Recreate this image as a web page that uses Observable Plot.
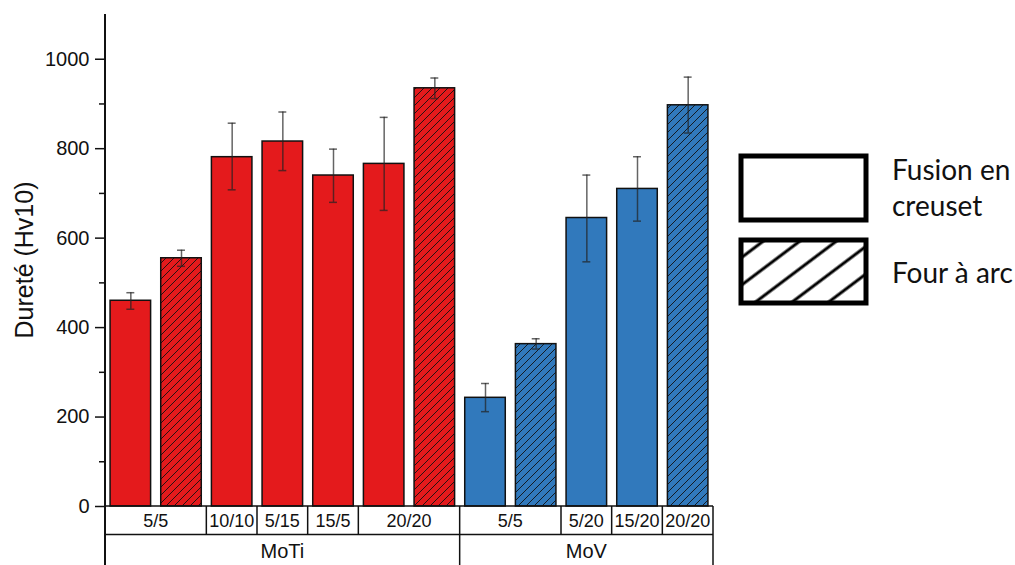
<!DOCTYPE html>
<html><head><meta charset="utf-8">
<script src="https://cdn.jsdelivr.net/npm/d3@7"></script>
<script src="https://cdn.jsdelivr.net/npm/@observablehq/plot@0.6"></script>
<style>body{margin:0;background:#fff}</style>
</head><body><div id="chart"></div>
<script>
const alloys = ["MoTi","MoTi","MoTi","MoTi","MoTi","MoTi","MoTi","MoV","MoV","MoV","MoV","MoV"];
const compositions = ["5/5","5/5","10/10","5/15","15/5","20/20","20/20","5/5","5/5","5/20","15/20","20/20"];
const methods = ["creuset","arc","creuset","creuset","creuset","creuset","arc","creuset","arc","creuset","creuset","arc"];
const hardness = [460,555,781,816,740,766,935,243,363,645,710,897];
const errLow  = [441,537,708,751,680,662,912,212,352,547,638,835];
const errHigh = [478,573,857,882,799,870,958,275,375,741,782,960];
const yTicks = [0,200,400,600,800,1000];
const yMinorTicks = [100,300,500,700,900];
const alloyColors = {MoTi:"#E41A1C", MoV:"#3179BC"};
const yLabel = "Dureté (Hv10)";
const legendLabels = [["Fusion en","creuset"],["Four à arc"]];

const data = hardness.map((h,i)=>({id:i, alloy:alloys[i], comp:compositions[i], method:methods[i], h, lo:errLow[i], hi:errHigh[i]}));
const ids = data.map(d=>d.id);

const plot = Plot.plot({
  width:1015, height:565, marginTop:14, marginBottom:59, marginLeft:105, marginRight:302,
  style:{fontFamily:"'Liberation Sans', Arial, sans-serif", fontSize:"20px", color:"#111", background:"transparent"},
  x:{type:"band", domain:ids, paddingInner:0.2, paddingOuter:0.1, round:false, axis:null},
  y:{domain:[0,1100], axis:null},
  marks:[
    Plot.barY(data,{x:"id", y:"h", fill:d=>alloyColors[d.alloy]}),
    Plot.barY(data.filter(d=>d.method==="arc"),{x:"id", y:"h", fill:"url(#hatch)"}),
    Plot.barY(data,{x:"id", y:"h", fill:"none", stroke:"#111", strokeWidth:1.5}),
    Plot.ruleX(data,{x:"id", y1:"lo", y2:"hi", stroke:"#222", strokeOpacity:0.7, strokeWidth:1.5}),
    Plot.tickY(data,{x:"id", y:"lo", stroke:"#222", strokeOpacity:0.7, strokeWidth:1.5, insetLeft:16.3, insetRight:16.3}),
    Plot.tickY(data,{x:"id", y:"hi", stroke:"#222", strokeOpacity:0.7, strokeWidth:1.5, insetLeft:16.3, insetRight:16.3}),
    Plot.axisY({ticks:yTicks, tickSize:10, tickPadding:6, tickFormat:d=>String(d), label:null, strokeWidth:1.5}),
    Plot.axisY({ticks:yMinorTicks, tickSize:6, tickFormat:()=>"", label:null, strokeWidth:1.5})
  ]
});
document.getElementById("chart").appendChild(plot);

const svg = d3.select(plot);
svg.selectAll('g[aria-label="y-axis tick label"]').style("font-size","20px").attr("font-size",20).selectAll("text").style("font-size","20px");
const defs = svg.insert("defs",":first-child");
const hp = defs.append("pattern").attr("id","hatch").attr("patternUnits","userSpaceOnUse").attr("width",8).attr("height",8);
hp.append("path").attr("d","M-2,2 L2,-2 M0,8 L8,0 M6,10 L10,6").attr("stroke","#111").attr("stroke-width",0.9);
const lp = defs.append("pattern").attr("id","lhatch").attr("patternUnits","userSpaceOnUse").attr("width",40).attr("height",22).attr("patternTransform","translate(740,300) rotate(-37)");
lp.append("line").attr("x1",0).attr("x2",40).attr("y1",11).attr("y2",11).attr("stroke","#000").attr("stroke-width",3);

const xs = plot.scale("x"), ys = plot.scale("y");
const step = xs.step, bw = xs.bandwidth, gap = (step-bw)/2;
const left = i => xs.apply(i) - gap;
const right = i => xs.apply(i) + bw + gap;
const y0 = ys.apply(0), yTop = ys.apply(1100);
const row1 = y0 + 28.5, row2 = 565;
const g = svg.append("g").attr("stroke","#111").attr("stroke-width",1.5);
const L = left(0), R = right(ids.length-1);
g.append("line").attr("x1",L).attr("x2",L).attr("y1",yTop).attr("y2",row2).attr("stroke-width",2);
g.append("line").attr("x1",L).attr("x2",R).attr("y1",y0).attr("y2",y0);
g.append("line").attr("x1",L).attr("x2",R).attr("y1",row1).attr("y2",row1);
g.append("line").attr("x1",R).attr("x2",R).attr("y1",y0).attr("y2",row2);

function runs(key){
  const out=[]; let s=0;
  for(let i=1;i<=ids.length;i++){
    if(i===ids.length || key(data[i])!==key(data[s])){ out.push({s, e:i-1, d:data[s]}); s=i; }
  }
  return out;
}
const r1 = runs(d=>d.alloy+"|"+d.comp);
const r2 = runs(d=>d.alloy);
const t = svg.append("g").attr("fill","#111").attr("text-anchor","middle").attr("font-family","'Liberation Sans', Arial, sans-serif");
r1.forEach(r=>{
  if(r.e<ids.length-1) g.append("line").attr("x1",right(r.e)).attr("x2",right(r.e)).attr("y1",y0).attr("y2",row1);
  t.append("text").attr("x",(left(r.s)+right(r.e))/2).attr("y",(y0+row1)/2).attr("dy","0.36em").attr("font-size",18).text(r.d.comp);
});
r2.forEach(r=>{
  if(r.e<ids.length-1) g.append("line").attr("x1",right(r.e)).attr("x2",right(r.e)).attr("y1",row1).attr("y2",row2);
  t.append("text").attr("x",(left(r.s)+right(r.e))/2).attr("y",551).attr("dy","0.36em").attr("font-size",20).text(r.d.alloy);
});
// y label
t.append("text").attr("transform",`translate(24,${(yTop+y0)/2}) rotate(-90)`).attr("dy","0.36em").attr("font-size",25).text(yLabel);

// legend
const lg = svg.append("g");
lg.append("rect").attr("x",741).attr("y",156).attr("width",125).attr("height",64).attr("fill","#fff").attr("stroke","#000").attr("stroke-width",5);
lg.append("rect").attr("x",741).attr("y",240).attr("width",125).attr("height",63).attr("fill","url(#lhatch)");
lg.append("rect").attr("x",741).attr("y",240).attr("width",125).attr("height",63).attr("fill","none").attr("stroke","#000").attr("stroke-width",5);
const lt = lg.append("g").attr("font-family","Lato, 'Open Sans', sans-serif").attr("font-size",28).attr("fill","#111").attr("text-anchor","start");
lt.append("text").attr("x",892).attr("y",180).text(legendLabels[0][0]);
lt.append("text").attr("x",892).attr("y",216).text(legendLabels[0][1]);
lt.append("text").attr("x",892).attr("y",283).text(legendLabels[1][0]);
</script></body></html>
